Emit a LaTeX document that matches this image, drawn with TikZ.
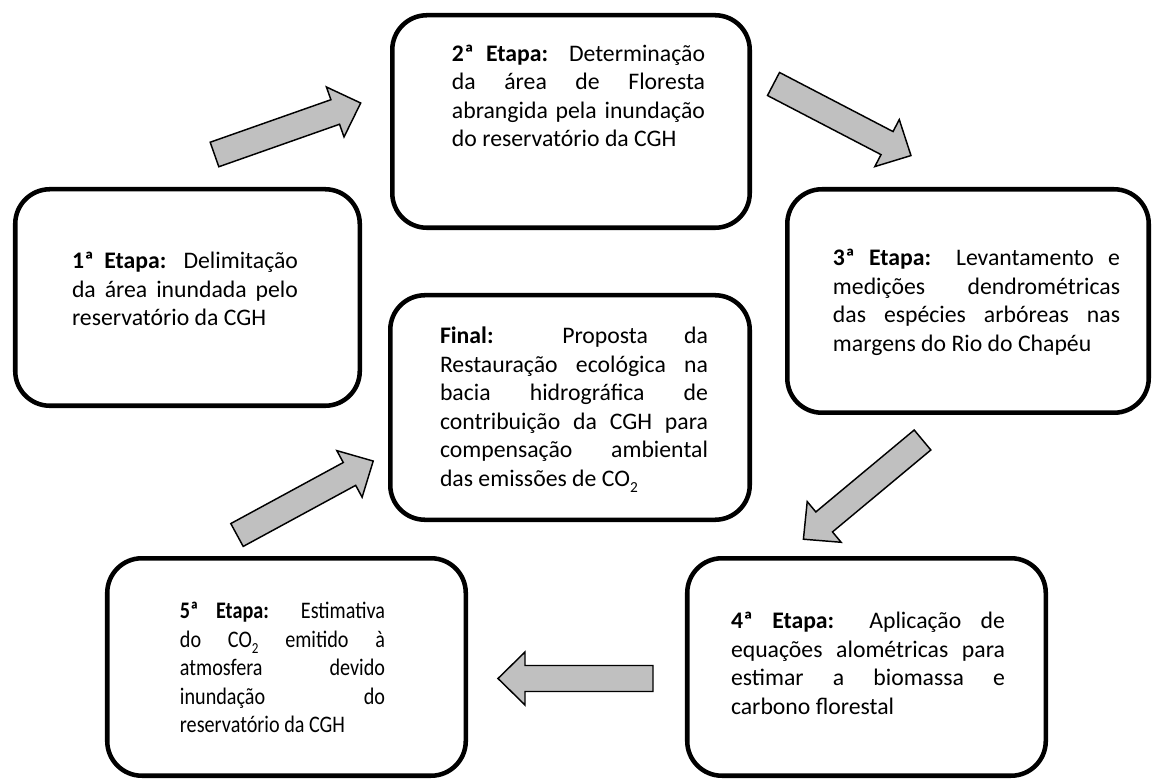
\documentclass[tikz,border=0pt]{standalone}
\usepackage{fontspec}
\setmainfont{Carlito}
\newfontfamily\estreita[FakeStretch=0.85]{Carlito}
\newcommand{\indice}[1]{\raisebox{-0.25em}{\fontsize{11.5}{12}\selectfont #1}}
\tolerance=10000
\hyphenpenalty=10000
\definecolor{cinza}{HTML}{C0C0C0}
\tikzset{
  etapa/.style={draw, line width=3.4pt, rounded corners=26pt, inner sep=0pt},
  texto/.style={inner sep=0pt, align=justify, font=\fontsize{17.8}{21.4}\selectfont},
  seta/.style={draw, fill=cinza, line width=1.1pt, line join=miter}
}
\begin{document}
\begin{tikzpicture}[x=0.75pt, y=-0.75pt]
  \useasboundingbox (0,0) rectangle (1153,780);
  % caixas das etapas
  \node[etapa, minimum width=258.4pt, minimum height=162.4pt] (e1) at (187.5,297.5) {};
  \node[etapa, minimum width=268.1pt, minimum height=159.4pt] (e2) at (571,121.5) {};
  \node[etapa, minimum width=271.1pt, minimum height=167.6pt] (e3) at (968,301) {};
  \node[etapa, minimum width=268.9pt, minimum height=163.1pt] (e4) at (866.5,667) {};
  \node[etapa, minimum width=268.9pt, minimum height=163.1pt] (e5) at (286.5,667) {};
  \node[etapa, minimum width=269.6pt, minimum height=168.4pt] (fim) at (570,407.5) {};
  % textos
  \node[texto, text width=169.5pt] (t1) at (185,289)
    {\textbf{1ª Etapa:} Delimitação\linebreak da área inundada pelo\linebreak reservatório da CGH};
  \node[texto, text width=189.8pt] (t2) at (578.5,96)
    {\textbf{2ª Etapa:} Determinação\linebreak da área de Floresta\linebreak abrangida pela inundação\linebreak do reservatório da CGH};
  \node[texto, text width=215.3pt] (t3) at (976.5,302.5)
    {\textbf{3ª Etapa:} Levantamento e\linebreak medições dendrométricas\linebreak das espécies arbóreas nas\linebreak margens do Rio do Chapéu};
  \node[texto, text width=205.5pt] (t4) at (868,663.5)
    {\textbf{4ª Etapa:} Aplicação de\linebreak equações alométricas para\linebreak estimar a biomassa e\linebreak carbono florestal};
  \node[texto, text width=153.8pt] (t5) at (282.5,667.5)
    {\estreita\textbf{5ª Etapa:} Estimativa\linebreak do CO\indice{2} emitido à\linebreak atmosfera devido\linebreak inundação do\linebreak reservatório da CGH};
  \node[texto, text width=201pt] (tf) at (574,409.5)
    {\textbf{Final:} Proposta da\linebreak Restauração ecológica na\linebreak bacia hidrográfica de\linebreak contribuição da CGH para\linebreak compensação ambiental\linebreak das emissões de CO\indice{2}};
  % setas
  \coordinate (s12) at (214.5,154.5);
  \coordinate (s23) at (773.5,84);
  \coordinate (s34) at (922.5,440);
  \coordinate (s45) at (653,678.5);
  \coordinate (s5f) at (237,535);
  \foreach \s/\ang in {s12/19.4, s23/-27.5, s34/219.8, s45/180, s5f/28.5}{
    \begin{scope}[shift={(\s)}, rotate=\ang]
      \draw[seta] (0,-13) -- (128,-13) -- (128,-26.5) -- (155,0) -- (128,26.5) -- (128,13) -- (0,13) -- cycle;
    \end{scope}
  }
\end{tikzpicture}
\end{document}
